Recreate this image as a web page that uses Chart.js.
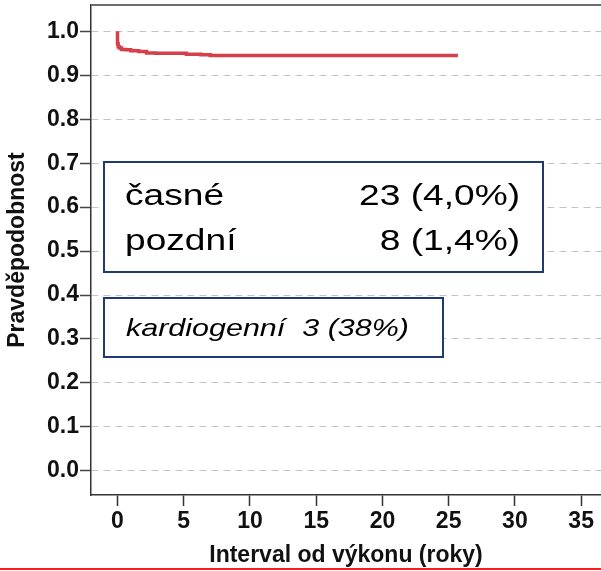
<!DOCTYPE html>
<html>
<head>
<meta charset="utf-8">
<script src="https://cdn.jsdelivr.net/npm/chart.js@4/dist/chart.umd.min.js"></script>
<style>
html, body { margin: 0; padding: 0; background: #fff; overflow: hidden; }
#wrap { width: 601px; height: 571px; position: relative; }
</style>
</head>
<body>
<div id="wrap"><canvas id="survChart"></canvas></div>
<script>
// Kaplan-Meier curve (years, probability)
const kmTime = [0, 0.05, 0.15, 0.3, 0.6, 1.0, 1.6, 2.2, 2.9, 5.2, 6.3, 7.0, 7.5, 25.7];
const kmSurv = [1.0, 0.972, 0.965, 0.962, 0.959, 0.958, 0.956, 0.954, 0.951, 0.950, 0.948, 0.947, 0.945, 0.945];

const xTickValues = [0, 5, 10, 15, 20, 25, 30, 35];
const yTickValues = [0.0, 0.1, 0.2, 0.3, 0.4, 0.5, 0.6, 0.7, 0.8, 0.9, 1.0];

const boxLabels = ['časné', 'pozdní'];
const boxCounts = ['23 (4,0%)', '8 (1,4%)'];
const noteText = 'kardiogenní  3 (38%)';

const FONT = '"Liberation Sans", Arial, sans-serif';

function stretchedText(ctx, text, x, y, align, sx) {
    ctx.save();
    ctx.translate(x, y);
    ctx.scale(sx, 1);
    ctx.textAlign = align;
    ctx.textBaseline = 'middle';
    ctx.fillText(text, 0, 0);
    ctx.restore();
}

const decorPlugin = {
    id: 'decor',
    afterDraw(chart) {
        const ctx = chart.ctx;
        const area = chart.chartArea;

        // top edge of the frame
        ctx.save();
        ctx.strokeStyle = '#6e6e6e';
        ctx.lineWidth = 2;
        ctx.beginPath();
        ctx.moveTo(area.left, area.top);
        ctx.lineTo(area.right, area.top);
        ctx.stroke();

        // counts box
        ctx.fillStyle = '#fff';
        ctx.strokeStyle = '#1f3a73';
        ctx.lineWidth = 2;
        ctx.fillRect(104, 162, 439, 110);
        ctx.strokeRect(104, 162, 439, 110);
        ctx.fillStyle = '#000';
        ctx.font = '29px ' + FONT;
        boxLabels.forEach((lbl, i) => {
            const y = 197 + i * 45;
            stretchedText(ctx, lbl, 125, y, 'left', 1.28);
            stretchedText(ctx, boxCounts[i], 520, y, 'right', 1.28);
        });

        // cardiogenic note
        ctx.fillStyle = '#fff';
        ctx.fillRect(104, 298, 339, 59);
        ctx.strokeRect(104, 298, 339, 59);
        ctx.fillStyle = '#000';
        ctx.font = 'italic 24px ' + FONT;
        stretchedText(ctx, noteText, 126, 329, 'left', 1.27);

        // red rule at the bottom of the slide
        ctx.fillStyle = '#ff1a1a';
        ctx.fillRect(0, 568, chart.width, 2);
        ctx.restore();
    }
};

function noPad(s) {
    s.paddingTop = 0;
    s.paddingBottom = 0;
    s.paddingLeft = 0;
    s.paddingRight = 0;
}

const ctx = document.getElementById('survChart').getContext('2d');
new Chart(ctx, {
    type: 'line',
    data: {
        datasets: [{
            data: kmTime.map((t, i) => ({ x: t, y: kmSurv[i] })),
            borderColor: '#d6404a',
            borderWidth: 3.5,
            stepped: 'after',
            pointRadius: 0,
            fill: false
        }]
    },
    options: {
        responsive: true,
        maintainAspectRatio: false,
        animation: false,
        layout: { padding: { top: 5, left: 0, right: 0, bottom: 0 } },
        plugins: {
            legend: { display: false },
            tooltip: { enabled: false }
        },
        scales: {
            x: {
                type: 'linear',
                min: -2,
                max: 36.5,
                afterBuildTicks: s => { s.ticks = xTickValues.map(v => ({ value: v })); },
                afterFit: s => { s.height = 76; noPad(s); },
                ticks: {
                    callback: v => String(v),
                    color: '#111',
                    padding: 2,
                    maxRotation: 0,
                    font: { family: FONT, size: 23, weight: 'bold' }
                },
                grid: { drawOnChartArea: false, drawTicks: true, tickLength: 11, tickColor: '#333', tickWidth: 1.5 },
                border: { display: true, color: '#333', width: 1.5 },
                title: {
                    display: true,
                    text: 'Interval od výkonu (roky)',
                    color: '#111',
                    padding: { top: 0, bottom: 2 },
                    font: { family: FONT, size: 23, weight: 'bold' }
                }
            },
            y: {
                min: -0.055,
                max: 1.06,
                afterBuildTicks: s => { s.ticks = yTickValues.map(v => ({ value: v })); },
                afterFit: s => { s.width = 91; noPad(s); },
                ticks: {
                    callback: v => v.toFixed(1),
                    color: '#111',
                    padding: 1,
                    font: { family: FONT, size: 23, weight: 'bold' }
                },
                grid: { color: '#c4c4c4', lineWidth: 1, tickLength: 11, tickColor: '#444', tickWidth: 1.5 },
                border: { display: true, color: '#333', width: 1.5, dash: [7, 5] },
                title: {
                    display: true,
                    text: 'Pravděpodobnost',
                    color: '#111',
                    padding: { top: 4, bottom: 0 },
                    font: { family: FONT, size: 23, weight: 'bold' }
                }
            }
        }
    },
    plugins: [decorPlugin]
});
</script>
</body>
</html>
